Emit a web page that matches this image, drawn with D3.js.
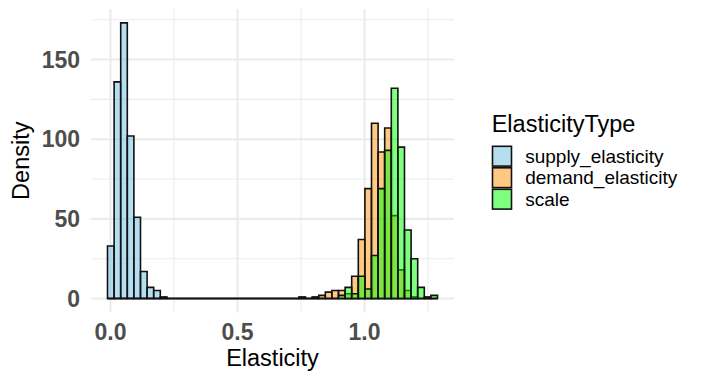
<!DOCTYPE html>
<html>
<head>
<meta charset="utf-8">
<script src="https://cdn.jsdelivr.net/npm/d3@7"></script>
<style>
  body { margin: 0; background: #fff; }
  text { font-family: "Liberation Sans", Arial, sans-serif; }
</style>
</head>
<body>
<script>
// histogram bins (shared by all three groups)
var binStart = -0.0118,
    binWidth = 0.02598,
    binCount = 50;

var groups = ["supply_elasticity", "demand_elasticity", "scale"];

var supplyDensity = [33, 136, 173, 102, 51, 17, 7, 5, 1, 0,
                     0, 0, 0, 0, 0, 0, 0, 0, 0, 0,
                     0, 0, 0, 0, 0, 0, 0, 0, 0, 0,
                     0, 0, 0, 0, 0, 0, 0, 0, 0, 0,
                     0, 0, 0, 0, 0, 0, 0, 0, 0, 0];

var demandDensity = [0, 0, 0, 0, 0, 0, 0, 0, 0, 0,
                     0, 0, 0, 0, 0, 0, 0, 0, 0, 0,
                     0, 0, 0, 0, 0, 0, 0, 0, 0, 1,
                     0, 1, 2, 4, 5, 5, 3, 14, 37, 69,
                     110, 92, 107, 52, 18, 5, 1, 0, 0, 0];

var scaleDensity = [0, 0, 0, 0, 0, 0, 0, 0, 0, 0,
                    0, 0, 0, 0, 0, 0, 0, 0, 0, 0,
                    0, 0, 0, 0, 0, 0, 0, 0, 0, 0,
                    0, 0, 0, 0, 0, 2, 7, 3, 14, 6,
                    27, 69, 93, 132, 95, 43, 25, 7, 1, 2];

var xTicks = [0, 0.5, 1.0],
    xMinor = [0.25, 0.75, 1.25],
    yTicks = [0, 50, 100, 150],
    yMinor = [25, 75, 125, 175];

var colors = ["#6bbde2", "#ff9308", "#00ff00"];

var width = 704,
    height = 384,
    panelLeft = 91,
    panelRight = 454,
    panelTop = 9.1,
    panelBottom = 312.3;

var svg = d3.select("body")
            .append("svg")
            .attr("width", width)
            .attr("height", height);

var series = [supplyDensity, demandDensity, scaleDensity];

// ggplot style 5% expansion
var lo = binStart, hi = binStart + binCount * binWidth;
var xPad = (hi - lo) * 0.05;
var x = d3.scaleLinear()
          .domain([lo - xPad, hi + xPad])
          .range([panelLeft, panelRight]);

var yMax = d3.max(series, function(s) { return d3.max(s); });
var yPad = yMax * 0.05;
var y = d3.scaleLinear()
          .domain([-yPad, yMax + yPad])
          .range([panelBottom, panelTop]);

// grid
var grid = svg.append("g");
grid.selectAll(".xminor")
    .data(xMinor)
    .enter().append("line")
    .attr("x1", function(d) { return x(d); })
    .attr("x2", function(d) { return x(d); })
    .attr("y1", panelTop).attr("y2", panelBottom)
    .attr("stroke", "#ebebeb").attr("stroke-width", 1.1);
grid.selectAll(".yminor")
    .data(yMinor)
    .enter().append("line")
    .attr("y1", function(d) { return y(d); })
    .attr("y2", function(d) { return y(d); })
    .attr("x1", panelLeft).attr("x2", panelRight)
    .attr("stroke", "#ebebeb").attr("stroke-width", 1.1);
grid.selectAll(".xmajor")
    .data(xTicks)
    .enter().append("line")
    .attr("x1", function(d) { return x(d); })
    .attr("x2", function(d) { return x(d); })
    .attr("y1", panelTop).attr("y2", panelBottom)
    .attr("stroke", "#ebebeb").attr("stroke-width", 2.1);
grid.selectAll(".ymajor")
    .data(yTicks)
    .enter().append("line")
    .attr("y1", function(d) { return y(d); })
    .attr("y2", function(d) { return y(d); })
    .attr("x1", panelLeft).attr("x2", panelRight)
    .attr("stroke", "#ebebeb").attr("stroke-width", 2.1);

// bars: paths so zero-height bins still show their outline
series.forEach(function(values, gi) {
  svg.append("g")
     .selectAll("path")
     .data(values)
     .enter()
     .append("path")
     .attr("d", function(d, i) {
       var x0 = x(binStart + i * binWidth),
           x1 = x(binStart + (i + 1) * binWidth),
           y0 = y(0),
           y1 = y(d);
       return "M" + x0 + "," + y0 + "V" + y1 + "H" + x1 + "V" + y0 + "Z";
     })
     .attr("fill", colors[gi])
     .attr("fill-opacity", 0.5)
     .attr("stroke", "#111")
     .attr("stroke-width", 1.6)
     .attr("stroke-linejoin", "miter");
});

// tick labels
svg.append("g")
   .selectAll("text")
   .data(xTicks)
   .enter().append("text")
   .attr("x", function(d) { return x(d); })
   .attr("y", 340)
   .attr("text-anchor", "middle")
   .attr("font-size", 23)
   .attr("font-weight", "bold")
   .attr("fill", "#4d4d4d")
   .text(d3.format(".1f"));

svg.append("g")
   .selectAll("text")
   .data(yTicks)
   .enter().append("text")
   .attr("x", 80)
   .attr("y", function(d) { return y(d); })
   .attr("dy", "0.36em")
   .attr("text-anchor", "end")
   .attr("font-size", 23)
   .attr("font-weight", "bold")
   .attr("fill", "#4d4d4d")
   .text(function(d) { return d; });

// axis titles
svg.append("text")
   .attr("x", (panelLeft + panelRight) / 2)
   .attr("y", 366)
   .attr("text-anchor", "middle")
   .attr("font-size", 23.5)
   .text("Elasticity");

svg.append("text")
   .attr("transform", "translate(28.5," + ((panelTop + panelBottom) / 2) + ") rotate(-90)")
   .attr("text-anchor", "middle")
   .attr("font-size", 23.5)
   .text("Density");

// legend
var legend = svg.append("g").attr("transform", "translate(491.7,0)");
legend.append("text")
      .attr("x", 0)
      .attr("y", 131.5)
      .attr("font-size", 23.5)
      .text("ElasticityType");

var keys = legend.selectAll(".key")
                 .data(groups)
                 .enter().append("g")
                 .attr("transform", function(d, i) {
                   return "translate(0," + (145.5 + i * 21.5) + ")";
                 });
keys.append("rect")
    .attr("x", 0.8).attr("y", 0.8)
    .attr("width", 19).attr("height", 19.8)
    .attr("fill", function(d, i) { return colors[i]; })
    .attr("fill-opacity", 0.5)
    .attr("stroke", "#111")
    .attr("stroke-width", 1.6);
keys.append("text")
    .attr("x", 33.5)
    .attr("y", 10.7)
    .attr("dy", "0.35em")
    .attr("font-size", 19)
    .text(function(d) { return d; });
</script>
</body>
</html>
